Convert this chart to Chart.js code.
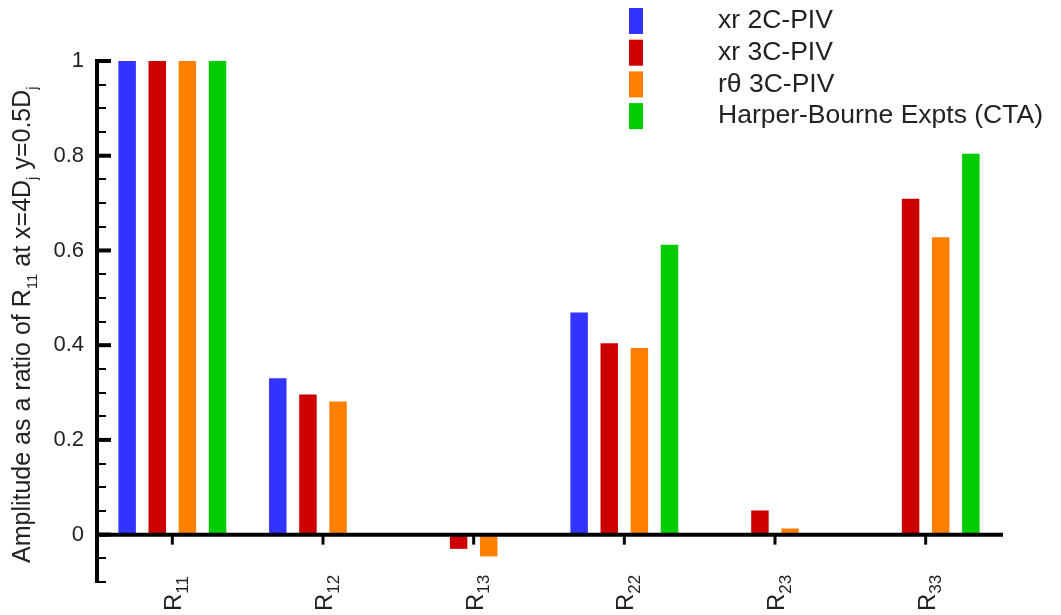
<!DOCTYPE html>
<html lang="en">
<head>
    <meta charset="UTF-8">
    <title>Amplitude ratio of R11</title>
    <script src="https://cdn.jsdelivr.net/npm/chart.js"></script>
    <style>
        body {
            margin: 0;
            padding: 0;
            background: #fff;
        }
        #wrap {
            width: 1061px;
            height: 615px;
        }
    </style>
</head>
<body>
    <div id="wrap"><canvas id="grafico" width="1061" height="615"></canvas></div>

    <script>
        // datos
        const categories = ["R11", "R12", "R13", "R22", "R23", "R33"];
        const xr2C = [1, 0.33, null, 0.469, null, null];
        const xr3C = [1, 0.296, -0.03, 0.404, 0.051, 0.709];
        const rt3C = [1, 0.281, -0.046, 0.394, 0.013, 0.628];
        const harper = [1, null, null, 0.612, null, 0.804];
        const seriesNames = ["xr 2C-PIV", "xr 3C-PIV", "r\u03b8 3C-PIV", "Harper-Bourne Expts (CTA)"];
        const yTicks = [0, 0.2, 0.4, 0.6, 0.8, 1];
        const yMin = -0.1, yMax = 1, minorStep = 0.05;

        const colores = ["#3333ff", "#cc0000", "#ff8000", "#00cc00"];
        const FONT = "'Liberation Sans', Arial, sans-serif";

        // dibuja texto con subindices: partes = [[texto, esSub], ...]
        function textoSub(ctx, partes, size, subScale) {
            let x = 0;
            partes.forEach(([t, sub]) => {
                ctx.font = (sub ? Math.round(size * subScale) : size) + "px " + FONT;
                ctx.fillText(t, x, sub ? size * 0.28 : 0);
                x += ctx.measureText(t).width;
            });
            return x;
        }

        const ejes = {
            id: "ejes",
            afterDatasetsDraw(chart) {
                const ctx = chart.ctx;
                const xs = chart.scales.x, ys = chart.scales.y;
                const ax = chart.chartArea.left;
                const y0 = ys.getPixelForValue(0);
                ctx.save();
                ctx.strokeStyle = "#000";
                ctx.lineCap = "butt";

                // eje y
                ctx.lineWidth = 4;
                ctx.beginPath();
                ctx.moveTo(ax, ys.getPixelForValue(yMax) - 2);
                ctx.lineTo(ax, ys.getPixelForValue(yMin) + 1);
                ctx.stroke();
                // menores
                ctx.lineWidth = 2;
                for (let v = yMin; v <= yMax + 1e-9; v += minorStep) {
                    const p = Math.round(ys.getPixelForValue(v));
                    ctx.beginPath();
                    ctx.moveTo(ax, p);
                    ctx.lineTo(ax + 9, p);
                    ctx.stroke();
                }
                // mayores
                ctx.lineWidth = 4;
                yTicks.forEach(v => {
                    const p = ys.getPixelForValue(v);
                    ctx.beginPath();
                    ctx.moveTo(ax, p);
                    ctx.lineTo(ax + 14, p);
                    ctx.stroke();
                });

                // eje x en y=0
                ctx.lineWidth = 4;
                ctx.beginPath();
                ctx.moveTo(ax, y0);
                ctx.lineTo(chart.chartArea.right + 2, y0);
                ctx.stroke();
                ctx.lineWidth = 3;
                categories.forEach((c, i) => {
                    const px = xs.getPixelForValue(i);
                    ctx.beginPath();
                    ctx.moveTo(px, y0);
                    ctx.lineTo(px, y0 + 10);
                    ctx.stroke();
                });

                // etiquetas del eje x (rotadas)
                ctx.fillStyle = "#222";
                ctx.textBaseline = "alphabetic";
                ctx.textAlign = "left";
                categories.forEach((c, i) => {
                    const px = xs.getPixelForValue(i);
                    ctx.save();
                    ctx.translate(px + 9, 611);
                    ctx.rotate(-Math.PI / 2);
                    textoSub(ctx, [[c[0], false], [c.slice(1), true]], 24, 0.72);
                    ctx.restore();
                });

                // titulo eje y
                ctx.save();
                ctx.translate(30, 563);
                ctx.rotate(-Math.PI / 2);
                textoSub(ctx, [
                    ["Amplitude as a ratio of R", false], ["11", true],
                    [" at x=4D", false], ["j", true],
                    [" y=0.5D", false], ["j", true]
                ], 25, 0.6);
                ctx.restore();

                // leyenda
                ctx.textBaseline = "middle";
                ctx.font = "26.5px " + FONT;
                chart.data.datasets.forEach((ds, i) => {
                    const top = 8 + i * 31.7;
                    ctx.fillStyle = ds.backgroundColor;
                    ctx.fillRect(629, top, 14, 26);
                    ctx.fillStyle = "#222";
                    ctx.fillText(ds.label, 718, top + 13);
                });
                ctx.restore();
            }
        };

        const fondo = {
            id: "fondo",
            beforeDraw(chart) {
                const ctx = chart.ctx;
                ctx.save();
                ctx.fillStyle = "#fff";
                ctx.fillRect(0, 0, chart.width, chart.height);
                ctx.restore();
            }
        };

        const series = [xr2C, xr3C, rt3C, harper];

        new Chart(document.getElementById("grafico").getContext("2d"), {
            type: "bar",
            data: {
                labels: categories,
                datasets: series.map((d, i) => ({
                    label: seriesNames[i],
                    data: d,
                    backgroundColor: colores[i],
                    borderWidth: 0,
                    categoryPercentage: 0.8,
                    barPercentage: 0.58
                }))
            },
            options: {
                responsive: false,
                animation: false,
                layout: {
                    padding: { left: 0, top: 61, right: 60, bottom: 33 }
                },
                plugins: {
                    legend: { display: false },
                    tooltip: { enabled: false }
                },
                scales: {
                    x: {
                        type: "category",
                        offset: true,
                        display: false
                    },
                    y: {
                        min: yMin,
                        max: yMax,
                        grid: { display: false, drawTicks: false },
                        border: { display: false },
                        afterBuildTicks: s => { s.ticks = yTicks.map(v => ({ value: v })); },
                        afterFit: s => { s.width = 97; },
                        ticks: {
                            padding: 13,
                            color: "#222",
                            font: { size: 22, family: FONT },
                            callback: v => String(v)
                        }
                    }
                }
            },
            plugins: [fondo, ejes]
        });
    </script>
</body>
</html>
